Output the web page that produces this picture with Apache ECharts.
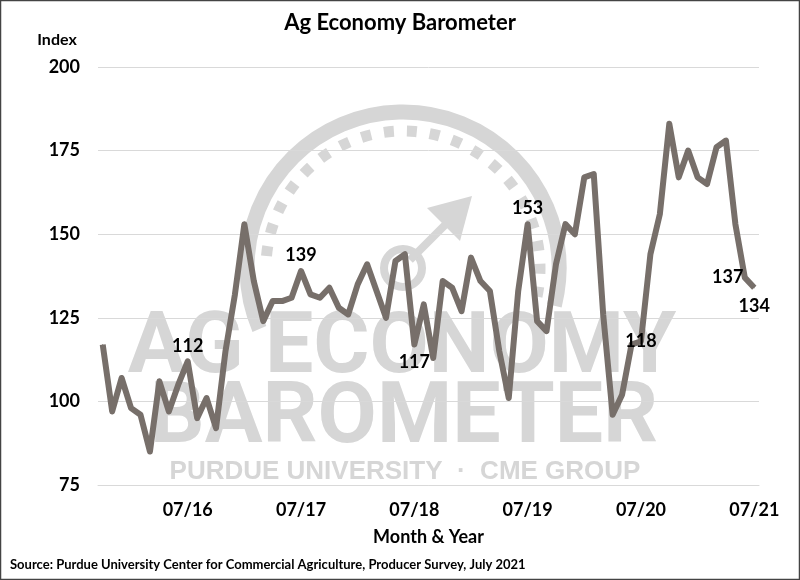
<!DOCTYPE html>
<html>
<head>
<meta charset="utf-8">
<title>Ag Economy Barometer</title>
<script src="https://cdn.jsdelivr.net/npm/echarts@6/dist/echarts.min.js"></script>
<style>
  html, body { margin: 0; padding: 0; background: #fff; }
  #chart { width: 800px; height: 580px; }
</style>
</head>
<body>
<div id="chart"></div>
<script>
// survey months, Oct 2015 - Jul 2021
const months = [
  '10/15', '11/15', '12/15',
  '01/16', '02/16', '03/16', '04/16', '05/16', '06/16', '07/16', '08/16', '09/16', '10/16', '11/16', '12/16',
  '01/17', '02/17', '03/17', '04/17', '05/17', '06/17', '07/17', '08/17', '09/17', '10/17', '11/17', '12/17',
  '01/18', '02/18', '03/18', '04/18', '05/18', '06/18', '07/18', '08/18', '09/18', '10/18', '11/18', '12/18',
  '01/19', '02/19', '03/19', '04/19', '05/19', '06/19', '07/19', '08/19', '09/19', '10/19', '11/19', '12/19',
  '01/20', '02/20', '03/20', '04/20', '05/20', '06/20', '07/20', '08/20', '09/20', '10/20', '11/20', '12/20',
  '01/21', '02/21', '03/21', '04/21', '05/21', '06/21', '07/21'
];

const barometer = [
  117, 97, 107,
  98, 96, 85, 106, 97, 105, 112, 95, 101, 92, 115, 132,
  153, 136, 124, 130, 130, 131, 139, 132, 131, 134, 128, 126,
  135, 141, 133, 125, 142, 144, 117, 129, 113, 136, 134, 127,
  143, 136, 133, 115, 101, 133, 153, 124, 121, 141, 153, 150,
  167, 168, 126, 96, 102, 117, 118, 144, 156, 183, 167, 175,
  167, 165, 176, 178, 153, 137, 134
];

// months that get an x-axis label
const tickMonths = ['07/16', '07/17', '07/18', '07/19', '07/20', '07/21'];

// months whose value is printed on the chart
const labelled = ['07/16', '07/17', '07/18', '07/19', '07/20', '06/21', '07/21'];

const FONT = 'Lato';
const WM = '#d6d6d6';
const LINE = '#776f6a';

// where each value label sits relative to its point
const labelPlace = {
  '07/16': { position: 'top', distance: 6 },
  '07/17': { position: 'top', distance: 6 },
  '07/18': { position: 'bottom', distance: 8 },
  '07/19': { position: 'top', distance: 6 },
  '07/20': { position: 'inside' },
  '06/21': { position: 'left', distance: 1 },
  '07/21': { position: 'bottom', distance: 9 }
};

const seriesData = barometer.map((v, i) => {
  const m = months[i];
  if (labelled.indexOf(m) < 0) return v;
  return {
    value: v,
    label: Object.assign({ show: true }, labelPlace[m])
  };
});

const deg = d => d * Math.PI / 180;

const chart = echarts.init(document.getElementById('chart'));

chart.setOption({
  animation: false,
  backgroundColor: '#fff',
  textStyle: { fontFamily: FONT },
  title: {
    text: 'Ag Economy Barometer',
    left: 'center',
    top: 7,
    textStyle: { fontFamily: FONT, fontWeight: 'bold', fontSize: 22, color: '#000' }
  },
  grid: { left: 98, right: 41, top: 67, bottom: 95 },
  xAxis: {
    type: 'category',
    data: months,
    boundaryGap: true,
    axisLine: { show: true, lineStyle: { color: '#d9d9d9', width: 1 } },
    axisTick: { show: false },
    axisLabel: {
      interval: (idx, val) => tickMonths.indexOf(val) >= 0,
      margin: 16,
      fontFamily: FONT,
      fontWeight: 'bold',
      fontSize: 18,
      color: '#000'
    },
    name: 'Month & Year',
    nameLocation: 'middle',
    nameGap: 43,
    nameTextStyle: { fontFamily: FONT, fontWeight: 'bold', fontSize: 18, color: '#000' }
  },
  yAxis: {
    type: 'value',
    min: 75,
    max: 200,
    interval: 25,
    axisLine: { show: false },
    axisTick: { show: false },
    splitLine: { lineStyle: { color: '#d9d9d9', width: 1 } },
    axisLabel: {
      margin: 18,
      fontFamily: FONT,
      fontWeight: 'bold',
      fontSize: 18,
      color: '#000'
    }
  },
  graphic: [
    // watermark: gauge, arrow and wordmark
    {
      type: 'arc', z: -10, silent: true,
      shape: { cx: 403, cy: 268, r: 156, startAngle: deg(157), endAngle: deg(374), clockwise: true },
      style: { stroke: WM, lineWidth: 15, fill: 'none' }
    },
    {
      type: 'arc', z: -10, silent: true,
      shape: { cx: 403, cy: 268, r: 137, startAngle: deg(185), endAngle: deg(372), clockwise: true },
      style: { stroke: WM, lineWidth: 11, lineDash: [10, 13], fill: 'none' }
    },
    {
      type: 'circle', z: -10, silent: true,
      shape: { cx: 403, cy: 268, r: 19 },
      style: { stroke: WM, lineWidth: 8, fill: 'none' }
    },
    {
      type: 'line', z: -10, silent: true,
      shape: { x1: 410, y1: 260, x2: 452, y2: 218 },
      style: { stroke: WM, lineWidth: 8 }
    },
    {
      type: 'polygon', z: -10, silent: true,
      shape: { points: [[472, 196], [427, 208], [460, 241]] },
      style: { fill: WM }
    },
    {
      type: 'text', z: -10, silent: true,
      style: {
        x: 402, y: 350, text: 'AG ECONOMY',
        font: 'bold 86px Roboto',
        textAlign: 'center', textVerticalAlign: 'middle', fill: WM
      }
    },
    {
      type: 'text', z: -10, silent: true,
      style: {
        x: 404, y: 420, text: 'BAROMETER',
        font: 'bold 86px Roboto',
        textAlign: 'center', textVerticalAlign: 'middle', fill: WM
      }
    },
    {
      type: 'text', z: -10, silent: true,
      style: {
        x: 405, y: 472, text: 'PURDUE UNIVERSITY  ·  CME GROUP',
        font: 'bold 26px "Liberation Sans"',
        textAlign: 'center', textVerticalAlign: 'middle', fill: WM
      }
    },
    // axis caption and source note
    {
      type: 'text',
      style: {
        x: 57, y: 40, text: 'Index',
        font: 'bold 16px Lato', textAlign: 'center', textVerticalAlign: 'middle', fill: '#000'
      }
    },
    {
      type: 'text',
      style: {
        x: 10, y: 565,
        text: 'Source: Purdue University Center for Commercial Agriculture, Producer Survey, July 2021',
        font: 'bold 13px Lato', textAlign: 'left', textVerticalAlign: 'middle', fill: '#000'
      }
    },
    // frame
    {
      type: 'rect', z: 100,
      shape: { x: 0.5, y: 0.5, width: 799, height: 579 },
      style: { stroke: '#444', lineWidth: 1.5, fill: 'none' }
    }
  ],
  series: [{
    type: 'line',
    data: seriesData,
    symbol: 'circle',
    symbolSize: 1,
    showSymbol: true,
    showAllSymbol: true,
    itemStyle: { color: LINE },
    z: 5,
    lineStyle: { color: LINE, width: 6, join: 'round' },
    label: {
      show: false,
      fontFamily: FONT,
      fontWeight: 'bold',
      fontSize: 18,
      color: '#000'
    },
    labelLayout: { hideOverlap: false }
  }]
});
</script>
</body>
</html>
